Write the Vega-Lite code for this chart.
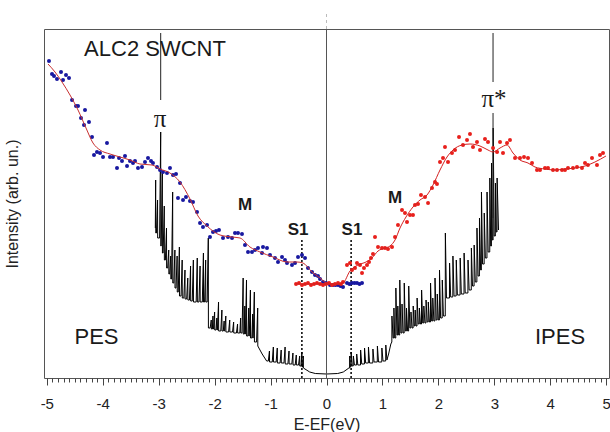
{
"$schema": "https://vega.github.io/schema/vega-lite/v6.json",
"autosize": "none",
"width": 565,
"height": 349,
"padding": {"left": 44, "top": 29, "right": 1, "bottom": 54},
"config": {"view": {"stroke": "#555", "strokeWidth": 1}, "font": "Liberation Sans"},
"datasets": {
"pes": [{"x":-4.961,"y":317},{"x":-4.907,"y":304},{"x":-4.871,"y":302},{"x":-4.818,"y":299},{"x":-4.746,"y":306},{"x":-4.71,"y":298},{"x":-4.657,"y":303},{"x":-4.603,"y":300},{"x":-4.549,"y":278},{"x":-4.478,"y":272},{"x":-4.442,"y":272},{"x":-4.389,"y":260},{"x":-4.335,"y":253},{"x":-4.317,"y":268},{"x":-4.246,"y":256},{"x":-4.192,"y":241},{"x":-4.156,"y":223},{"x":-4.103,"y":226},{"x":-4.049,"y":225},{"x":-3.995,"y":221},{"x":-3.924,"y":235},{"x":-3.87,"y":221},{"x":-3.817,"y":221},{"x":-3.745,"y":210},{"x":-3.709,"y":220},{"x":-3.656,"y":217},{"x":-3.602,"y":222},{"x":-3.566,"y":212},{"x":-3.513,"y":217},{"x":-3.459,"y":215},{"x":-3.423,"y":217},{"x":-3.37,"y":210},{"x":-3.298,"y":211},{"x":-3.245,"y":216},{"x":-3.191,"y":220},{"x":-3.137,"y":217},{"x":-3.102,"y":215},{"x":-3.03,"y":211},{"x":-2.976,"y":208},{"x":-2.923,"y":206},{"x":-2.851,"y":205},{"x":-2.798,"y":210},{"x":-2.744,"y":203},{"x":-2.69,"y":204},{"x":-2.619,"y":195},{"x":-2.655,"y":180},{"x":-2.565,"y":178},{"x":-2.512,"y":181},{"x":-2.44,"y":177},{"x":-2.386,"y":176},{"x":-2.315,"y":166},{"x":-2.261,"y":155},{"x":-2.208,"y":151},{"x":-2.136,"y":153},{"x":-2.083,"y":141},{"x":-2.029,"y":146},{"x":-1.975,"y":147},{"x":-1.922,"y":148},{"x":-1.85,"y":140},{"x":-1.761,"y":141},{"x":-1.689,"y":140},{"x":-1.636,"y":145},{"x":-1.582,"y":145},{"x":-1.511,"y":144},{"x":-1.457,"y":133},{"x":-1.403,"y":126},{"x":-1.332,"y":126},{"x":-1.278,"y":128},{"x":-1.225,"y":130},{"x":-1.153,"y":125},{"x":-1.135,"y":131},{"x":-1.064,"y":130},{"x":-1.01,"y":123},{"x":-0.921,"y":120},{"x":-0.867,"y":116},{"x":-0.795,"y":121},{"x":-0.742,"y":118},{"x":-0.706,"y":115},{"x":-0.617,"y":113},{"x":-0.563,"y":115},{"x":-0.509,"y":121},{"x":-0.438,"y":123},{"x":-0.384,"y":120},{"x":-0.331,"y":110},{"x":-0.259,"y":106},{"x":-0.206,"y":103},{"x":-0.152,"y":102},{"x":-0.116,"y":99},{"x":-0.063,"y":96},{"x":-0.009,"y":95},{"x":0.063,"y":93},{"x":0.116,"y":93},{"x":0.16,"y":93},{"x":0.206,"y":93},{"x":0.25,"y":92},{"x":0.295,"y":91},{"x":0.366,"y":95},{"x":0.41,"y":94},{"x":0.456,"y":95},{"x":0.5,"y":95},{"x":0.545,"y":95},{"x":0.59,"y":94},{"x":0.635,"y":95}],
"ipes": [{"x":-0.545,"y":94},{"x":-0.492,"y":95},{"x":-0.438,"y":93},{"x":-0.384,"y":94},{"x":-0.331,"y":95},{"x":-0.277,"y":93},{"x":-0.223,"y":94},{"x":-0.17,"y":95},{"x":-0.116,"y":94},{"x":-0.063,"y":93},{"x":-0.009,"y":94},{"x":0.045,"y":95},{"x":0.098,"y":93},{"x":0.152,"y":94},{"x":0.206,"y":95},{"x":0.259,"y":94},{"x":0.295,"y":96},{"x":0.366,"y":113},{"x":0.42,"y":115},{"x":0.456,"y":108},{"x":0.509,"y":110},{"x":0.545,"y":115},{"x":0.599,"y":113},{"x":0.635,"y":105},{"x":0.67,"y":110},{"x":0.724,"y":113},{"x":0.76,"y":116},{"x":0.795,"y":120},{"x":0.831,"y":124},{"x":0.867,"y":141},{"x":0.921,"y":131},{"x":0.992,"y":130},{"x":1.046,"y":130},{"x":1.099,"y":129},{"x":1.171,"y":131},{"x":1.225,"y":141},{"x":1.278,"y":153},{"x":1.35,"y":168},{"x":1.403,"y":165},{"x":1.439,"y":156},{"x":1.493,"y":163},{"x":1.546,"y":163},{"x":1.582,"y":173},{"x":1.636,"y":174},{"x":1.689,"y":183},{"x":1.761,"y":181},{"x":1.815,"y":175},{"x":1.886,"y":190},{"x":1.94,"y":196},{"x":1.975,"y":194},{"x":2.029,"y":216},{"x":2.083,"y":220},{"x":2.118,"y":231},{"x":2.172,"y":216},{"x":2.243,"y":225},{"x":2.297,"y":228},{"x":2.369,"y":241},{"x":2.44,"y":233},{"x":2.512,"y":238},{"x":2.565,"y":244},{"x":2.619,"y":231},{"x":2.69,"y":236},{"x":2.744,"y":228},{"x":2.833,"y":239},{"x":2.887,"y":236},{"x":2.977,"y":230},{"x":3.049,"y":226},{"x":3.102,"y":236},{"x":3.155,"y":225},{"x":3.227,"y":235},{"x":3.28,"y":238},{"x":3.37,"y":220},{"x":3.459,"y":220},{"x":3.531,"y":221},{"x":3.602,"y":220},{"x":3.674,"y":215},{"x":3.763,"y":208},{"x":3.817,"y":208},{"x":3.906,"y":210},{"x":3.96,"y":210},{"x":4.049,"y":208},{"x":4.12,"y":208},{"x":4.21,"y":208},{"x":4.263,"y":208},{"x":4.317,"y":210},{"x":4.406,"y":210},{"x":4.478,"y":211},{"x":4.567,"y":210},{"x":4.621,"y":215},{"x":4.674,"y":213},{"x":4.746,"y":220},{"x":4.835,"y":213},{"x":4.889,"y":223},{"x":4.943,"y":225}],
"pesfit": [{"x":-4.978,"y":314},{"x":-4.853,"y":306},{"x":-4.728,"y":296},{"x":-4.585,"y":283},{"x":-4.442,"y":268},{"x":-4.299,"y":250},{"x":-4.174,"y":235},{"x":-4.049,"y":228},{"x":-3.87,"y":224},{"x":-3.692,"y":221},{"x":-3.513,"y":218},{"x":-3.334,"y":214},{"x":-3.119,"y":213},{"x":-2.976,"y":209},{"x":-2.798,"y":205},{"x":-2.619,"y":196},{"x":-2.44,"y":179},{"x":-2.297,"y":162},{"x":-2.136,"y":152},{"x":-1.904,"y":143},{"x":-1.689,"y":141},{"x":-1.546,"y":140},{"x":-1.368,"y":131},{"x":-1.189,"y":126},{"x":-0.956,"y":121},{"x":-0.706,"y":116},{"x":-0.527,"y":116},{"x":-0.42,"y":115},{"x":-0.259,"y":106},{"x":-0.116,"y":100},{"x":0.027,"y":93}],
"ipesfit": [{"x":-0.56,"y":94},{"x":0.2,"y":94},{"x":0.295,"y":95},{"x":0.42,"y":107},{"x":0.563,"y":113},{"x":0.706,"y":116},{"x":0.813,"y":120},{"x":0.921,"y":127},{"x":1.046,"y":130},{"x":1.135,"y":132},{"x":1.225,"y":138},{"x":1.314,"y":150},{"x":1.421,"y":161},{"x":1.546,"y":171},{"x":1.672,"y":178},{"x":1.797,"y":183},{"x":1.904,"y":193},{"x":2.029,"y":208},{"x":2.154,"y":221},{"x":2.261,"y":228},{"x":2.422,"y":233},{"x":2.565,"y":234},{"x":2.744,"y":232},{"x":2.887,"y":228},{"x":2.977,"y":226},{"x":3.102,"y":230},{"x":3.227,"y":233},{"x":3.334,"y":225},{"x":3.459,"y":218},{"x":3.602,"y":215},{"x":3.727,"y":211},{"x":3.906,"y":209},{"x":4.084,"y":208},{"x":4.263,"y":209},{"x":4.442,"y":210},{"x":4.621,"y":212},{"x":4.799,"y":216},{"x":4.996,"y":222}],
"dos": [{"x":-3.06,"y":150},{"x":-3.054,"y":198},{"x":-3.052,"y":145},{"x":-3.04,"y":145},{"x":-3.02,"y":178},{"x":-3.018,"y":140},{"x":-2.984,"y":140},{"x":-2.964,"y":246},{"x":-2.962,"y":132},{"x":-2.955,"y":132},{"x":-2.935,"y":205},{"x":-2.933,"y":125},{"x":-2.92,"y":125},{"x":-2.9,"y":172},{"x":-2.898,"y":118},{"x":-2.88,"y":118},{"x":-2.86,"y":150},{"x":-2.858,"y":110},{"x":-2.84,"y":110},{"x":-2.82,"y":128},{"x":-2.818,"y":104},{"x":-2.805,"y":104},{"x":-2.785,"y":122},{"x":-2.783,"y":99},{"x":-2.77,"y":99},{"x":-2.75,"y":186},{"x":-2.748,"y":95},{"x":-2.73,"y":95},{"x":-2.71,"y":128},{"x":-2.708,"y":90},{"x":-2.69,"y":90},{"x":-2.67,"y":122},{"x":-2.668,"y":86},{"x":-2.65,"y":86},{"x":-2.63,"y":131},{"x":-2.628,"y":82},{"x":-2.6,"y":82},{"x":-2.58,"y":118},{"x":-2.578,"y":80},{"x":-2.55,"y":80},{"x":-2.53,"y":108},{"x":-2.528,"y":79},{"x":-2.5,"y":79},{"x":-2.48,"y":100},{"x":-2.478,"y":78},{"x":-2.45,"y":78},{"x":-2.43,"y":112},{"x":-2.428,"y":77},{"x":-2.4,"y":77},{"x":-2.38,"y":118},{"x":-2.378,"y":76},{"x":-2.33,"y":76},{"x":-2.31,"y":120},{"x":-2.308,"y":76},{"x":-2.28,"y":76},{"x":-2.26,"y":112},{"x":-2.258,"y":76},{"x":-2.22,"y":76},{"x":-2.2,"y":125},{"x":-2.198,"y":76},{"x":-2.18,"y":76},{"x":-2.16,"y":118},{"x":-2.158,"y":76},{"x":-2.133,"y":76},{"x":-2.113,"y":140},{"x":-2.111,"y":50},{"x":-2.08,"y":50},{"x":-2.06,"y":58},{"x":-2.058,"y":49},{"x":-2.04,"y":49},{"x":-2.03,"y":62},{"x":-2.028,"y":49},{"x":-2.02,"y":49},{"x":-2.0,"y":66},{"x":-1.998,"y":48},{"x":-1.975,"y":48},{"x":-1.96,"y":60},{"x":-1.958,"y":48},{"x":-1.95,"y":48},{"x":-1.93,"y":76},{"x":-1.928,"y":47},{"x":-1.89,"y":47},{"x":-1.87,"y":68},{"x":-1.868,"y":47},{"x":-1.845,"y":47},{"x":-1.83,"y":57},{"x":-1.828,"y":47},{"x":-1.82,"y":47},{"x":-1.8,"y":62},{"x":-1.798,"y":46},{"x":-1.75,"y":46},{"x":-1.73,"y":58},{"x":-1.728,"y":46},{"x":-1.68,"y":46},{"x":-1.66,"y":56},{"x":-1.658,"y":45},{"x":-1.61,"y":45},{"x":-1.59,"y":54},{"x":-1.588,"y":45},{"x":-1.55,"y":45},{"x":-1.535,"y":60},{"x":-1.533,"y":45},{"x":-1.51,"y":45},{"x":-1.49,"y":100},{"x":-1.488,"y":44},{"x":-1.47,"y":44},{"x":-1.46,"y":72},{"x":-1.458,"y":44},{"x":-1.45,"y":44},{"x":-1.43,"y":98},{"x":-1.428,"y":42},{"x":-1.405,"y":42},{"x":-1.39,"y":70},{"x":-1.388,"y":42},{"x":-1.38,"y":42},{"x":-1.36,"y":88},{"x":-1.358,"y":40},{"x":-1.335,"y":40},{"x":-1.32,"y":64},{"x":-1.318,"y":40},{"x":-1.31,"y":40},{"x":-1.29,"y":86},{"x":-1.288,"y":36},{"x":-1.25,"y":36},{"x":-1.23,"y":70},{"x":-1.228,"y":32},{"x":-1.15,"y":24},{"x":-1.07,"y":17},{"x":-1.04,"y":17},{"x":-1.02,"y":27},{"x":-1.018,"y":16},{"x":-0.97,"y":16},{"x":-0.95,"y":31},{"x":-0.948,"y":16},{"x":-0.9,"y":16},{"x":-0.88,"y":30},{"x":-0.878,"y":15},{"x":-0.83,"y":15},{"x":-0.81,"y":28},{"x":-0.808,"y":15},{"x":-0.76,"y":15},{"x":-0.74,"y":31},{"x":-0.738,"y":14},{"x":-0.69,"y":14},{"x":-0.67,"y":27},{"x":-0.668,"y":14},{"x":-0.62,"y":14},{"x":-0.6,"y":25},{"x":-0.598,"y":13},{"x":-0.56,"y":13},{"x":-0.54,"y":23},{"x":-0.538,"y":13},{"x":-0.5,"y":13},{"x":-0.48,"y":22},{"x":-0.478,"y":12},{"x":-0.455,"y":12},{"x":-0.44,"y":26},{"x":-0.438,"y":11},{"x":-0.43,"y":11},{"x":-0.415,"y":22},{"x":-0.413,"y":10},{"x":-0.3,"y":6},{"x":-0.2,"y":4.5},{"x":0,"y":4},{"x":0.2,"y":4.5},{"x":0.3,"y":6},{"x":0.4,"y":10},{"x":0.413,"y":10},{"x":0.415,"y":22},{"x":0.425,"y":11},{"x":0.438,"y":11},{"x":0.44,"y":26},{"x":0.46,"y":12},{"x":0.478,"y":12},{"x":0.48,"y":22},{"x":0.5,"y":13},{"x":0.538,"y":13},{"x":0.54,"y":24},{"x":0.56,"y":13},{"x":0.608,"y":13},{"x":0.61,"y":28},{"x":0.63,"y":14},{"x":0.678,"y":14},{"x":0.68,"y":30},{"x":0.7,"y":15},{"x":0.748,"y":15},{"x":0.75,"y":31},{"x":0.77,"y":15},{"x":0.828,"y":15},{"x":0.83,"y":29},{"x":0.85,"y":16},{"x":0.908,"y":16},{"x":0.91,"y":32},{"x":0.93,"y":16},{"x":0.988,"y":16},{"x":0.99,"y":30},{"x":1.01,"y":17},{"x":1.058,"y":17},{"x":1.06,"y":33},{"x":1.08,"y":18},{"x":1.11,"y":24},{"x":1.15,"y":34},{"x":1.168,"y":36},{"x":1.17,"y":62},{"x":1.19,"y":40},{"x":1.203,"y":40},{"x":1.205,"y":70},{"x":1.22,"y":40},{"x":1.238,"y":40},{"x":1.24,"y":90},{"x":1.26,"y":43},{"x":1.273,"y":43},{"x":1.275,"y":72},{"x":1.29,"y":43},{"x":1.308,"y":43},{"x":1.31,"y":98},{"x":1.33,"y":45},{"x":1.348,"y":45},{"x":1.35,"y":74},{"x":1.37,"y":45},{"x":1.388,"y":45},{"x":1.39,"y":95},{"x":1.41,"y":47},{"x":1.428,"y":47},{"x":1.43,"y":70},{"x":1.45,"y":47},{"x":1.468,"y":47},{"x":1.47,"y":92},{"x":1.49,"y":50},{"x":1.508,"y":50},{"x":1.51,"y":66},{"x":1.53,"y":50},{"x":1.548,"y":50},{"x":1.55,"y":72},{"x":1.57,"y":52},{"x":1.583,"y":52},{"x":1.585,"y":68},{"x":1.6,"y":52},{"x":1.618,"y":52},{"x":1.62,"y":80},{"x":1.64,"y":54},{"x":1.658,"y":54},{"x":1.66,"y":70},{"x":1.68,"y":54},{"x":1.698,"y":54},{"x":1.7,"y":88},{"x":1.72,"y":55},{"x":1.738,"y":55},{"x":1.74,"y":72},{"x":1.76,"y":55},{"x":1.778,"y":55},{"x":1.78,"y":78},{"x":1.8,"y":56},{"x":1.818,"y":56},{"x":1.82,"y":76},{"x":1.84,"y":56},{"x":1.858,"y":56},{"x":1.86,"y":95},{"x":1.88,"y":57},{"x":1.898,"y":57},{"x":1.9,"y":80},{"x":1.92,"y":57},{"x":1.938,"y":57},{"x":1.94,"y":100},{"x":1.96,"y":58},{"x":1.978,"y":58},{"x":1.98,"y":84},{"x":2.0,"y":58},{"x":2.018,"y":58},{"x":2.02,"y":108},{"x":2.04,"y":60},{"x":2.068,"y":60},{"x":2.07,"y":98},{"x":2.09,"y":62},{"x":2.123,"y":62},{"x":2.125,"y":145},{"x":2.145,"y":80},{"x":2.198,"y":80},{"x":2.2,"y":115},{"x":2.22,"y":81},{"x":2.258,"y":81},{"x":2.26,"y":122},{"x":2.28,"y":82},{"x":2.318,"y":82},{"x":2.32,"y":118},{"x":2.34,"y":83},{"x":2.388,"y":83},{"x":2.39,"y":120},{"x":2.41,"y":84},{"x":2.458,"y":84},{"x":2.46,"y":125},{"x":2.48,"y":85},{"x":2.528,"y":85},{"x":2.53,"y":118},{"x":2.55,"y":88},{"x":2.588,"y":88},{"x":2.59,"y":130},{"x":2.61,"y":92},{"x":2.638,"y":92},{"x":2.64,"y":133},{"x":2.66,"y":96},{"x":2.688,"y":96},{"x":2.69,"y":150},{"x":2.71,"y":102},{"x":2.733,"y":102},{"x":2.735,"y":160},{"x":2.755,"y":108},{"x":2.768,"y":108},{"x":2.77,"y":186},{"x":2.79,"y":114},{"x":2.818,"y":114},{"x":2.82,"y":165},{"x":2.84,"y":120},{"x":2.868,"y":120},{"x":2.87,"y":186},{"x":2.89,"y":126},{"x":2.918,"y":126},{"x":2.92,"y":200},{"x":2.935,"y":132},{"x":2.948,"y":132},{"x":2.95,"y":215},{"x":2.965,"y":138},{"x":2.978,"y":138},{"x":2.98,"y":250},{"x":2.998,"y":142},{"x":3.018,"y":142},{"x":3.02,"y":195},{"x":3.035,"y":146},{"x":3.048,"y":146},{"x":3.05,"y":200},{"x":3.075,"y":148}],
"zeroline": [{"x":0,"y":0,"y2":349}],
"zerotop": [{"x":0,"y":349,"y2":367}],
"dashes": [{"x":-0.44,"y":0,"y2":140},{"x":0.44,"y":0,"y2":138}],
"pirules": [{"x":-2.964,"y":278,"y2":345},{"x":2.977,"y":296,"y2":345},{"x":2.977,"y":160,"y2":265}],
"title": [{"x":-3.066,"y":329,"t":"ALC2 SWCNT"}],
"big": [{"x":-4.111,"y":41,"t":"PES"},{"x":4.174,"y":41,"t":"IPES"}],
"greek": [{"x":-2.976,"y":259,"t":"π"},{"x":2.995,"y":279,"t":"π*"}],
"bold": [{"x":-1.457,"y":173,"t":"M"},{"x":1.225,"y":180,"t":"M"},{"x":-0.509,"y":148,"t":"S1"},{"x":0.456,"y":148,"t":"S1"}]
},
"encoding": {
"x": {"field": "x", "type": "quantitative", "scale": {"domain": [-5.05, 5.05], "nice": false, "zero": false},
 "axis": {"title": "E-EF(eV)", "tickCount": 100, "grid": false, "domain": false, "labelOverlap": false, "labelFlush": false,
  "labelExpr": "abs(datum.value - round(datum.value)) < 0.001 ? '' + round(datum.value) : ''",
  "tickSize": {"condition": {"test": "abs(datum.value - round(datum.value)) < 0.001", "value": 7}, "value": 4},
  "tickColor": "#444", "labelFontSize": 15, "labelColor": "#222", "labelPadding": 11, "labelFont": "Liberation Sans",
  "titleFontSize": 16, "titleFontWeight": "normal", "titleColor": "#222", "titleFont": "Liberation Sans", "titlePadding": 5}},
"y": {"field": "y", "type": "quantitative", "scale": {"domain": [0, 349], "nice": false, "zero": false},
 "axis": {"title": "Intensity (arb. un.)", "labels": false, "ticks": false, "domain": false, "grid": false,
  "titleFontSize": 16, "titleFontWeight": "normal", "titleColor": "#222", "titleFont": "Liberation Sans", "titlePadding": 24}}
},
"layer": [
{"data": {"name": "dos"}, "mark": {"type": "line", "color": "#000", "strokeWidth": 1}},
{"data": {"name": "zeroline"}, "mark": {"type": "rule", "color": "#555", "strokeWidth": 1}, "encoding": {"y2": {"field": "y2"}}},
{"data": {"name": "zerotop"}, "mark": {"type": "rule", "color": "#bbb", "strokeWidth": 1, "strokeDash": [3, 3]}, "encoding": {"y2": {"field": "y2"}}},
{"data": {"name": "dashes"}, "mark": {"type": "rule", "color": "#000", "strokeWidth": 1.5, "strokeDash": [2, 2]}, "encoding": {"y2": {"field": "y2"}}},
{"data": {"name": "pirules"}, "mark": {"type": "rule", "color": "#222", "strokeWidth": 1}, "encoding": {"y2": {"field": "y2"}}},
{"data": {"name": "pes"}, "mark": {"type": "point", "filled": true, "shape": "circle", "size": 16, "color": "#1818a0", "opacity": 1}},
{"data": {"name": "ipes"}, "mark": {"type": "point", "filled": true, "shape": "circle", "size": 16, "color": "#e8201c", "opacity": 1}},
{"data": {"name": "pesfit"}, "mark": {"type": "line", "color": "#c83030", "strokeWidth": 1, "interpolate": "monotone"}},
{"data": {"name": "ipesfit"}, "mark": {"type": "line", "color": "#d42020", "strokeWidth": 1, "interpolate": "monotone"}},
{"data": {"name": "title"}, "mark": {"type": "text", "fontSize": 22, "font": "Liberation Sans", "color": "#1a1a1a", "baseline": "middle"}, "encoding": {"text": {"field": "t"}}},
{"data": {"name": "big"}, "mark": {"type": "text", "fontSize": 22, "font": "Liberation Sans", "color": "#1a1a1a", "baseline": "middle"}, "encoding": {"text": {"field": "t"}}},
{"data": {"name": "greek"}, "mark": {"type": "text", "fontSize": 25, "font": "Liberation Serif", "color": "#1a1a1a", "baseline": "middle"}, "encoding": {"text": {"field": "t"}}},
{"data": {"name": "bold"}, "mark": {"type": "text", "fontSize": 17, "font": "Liberation Sans", "fontWeight": "bold", "color": "#1a1a1a", "baseline": "middle"}, "encoding": {"text": {"field": "t"}}}
]
}
